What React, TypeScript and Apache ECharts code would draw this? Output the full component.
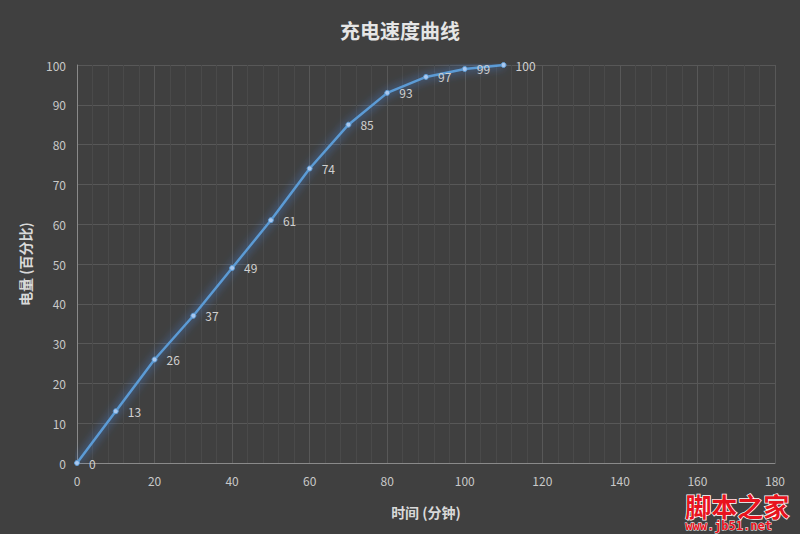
import React, { useEffect, useRef } from "react";
import * as echarts from "echarts";

const minutes = [0, 10, 20, 30, 40, 50, 60, 70, 80, 90, 100, 110];
const battery = [0, 13, 26, 37, 49, 61, 74, 85, 93, 97, 99, 100];
const title = "充电速度曲线";
const xName = "时间 (分钟)";
const yName = "电量 (百分比)";

export default function App() {
  const ref = useRef<HTMLDivElement>(null);
  useEffect(() => {
    if (!ref.current) return;
    const chart = echarts.init(ref.current, null, { renderer: "svg" });
    const font = "'Noto Sans CJK SC', 'Open Sans', sans-serif";
    chart.setOption({
      animation: false,
      backgroundColor: "#404040",
      textStyle: { fontFamily: font },
      title: {
        text: title,
        left: "center",
        top: 15,
        textStyle: { color: "#e6e6e6", fontSize: 20, fontWeight: "bold", fontFamily: font },
      },
      grid: { left: 77, right: 25, top: 65, bottom: 71, containLabel: false },
      xAxis: {
        type: "value",
        min: 0,
        max: 180,
        interval: 20,
        name: xName,
        nameLocation: "middle",
        nameGap: 42,
        nameTextStyle: { color: "#d9d9d9", fontSize: 14, fontWeight: "bold", fontFamily: font },
        axisLine: { show: true, lineStyle: { color: "#8a8a8a", width: 1 } },
        axisTick: { show: false },
        axisLabel: { color: "#c8c8c8", fontSize: 12, margin: 10, lineHeight: 14 },
        splitLine: { show: true, lineStyle: { color: "#585858", width: 1 } },
        minorTick: { show: false, splitNumber: 5 },
        minorSplitLine: { show: true, lineStyle: { color: "#4a4a4a", width: 1 } },
      },
      yAxis: {
        type: "value",
        min: 0,
        max: 100,
        interval: 10,
        name: yName,
        nameLocation: "middle",
        nameGap: 45,
        nameRotate: 90,
        nameTextStyle: { color: "#d9d9d9", fontSize: 14, fontWeight: "bold", fontFamily: font },
        axisLine: { show: true, lineStyle: { color: "#8a8a8a", width: 1 } },
        axisTick: { show: false },
        axisLabel: { color: "#c8c8c8", fontSize: 12, margin: 11 },
        splitLine: { show: true, lineStyle: { color: "#585858", width: 1 } },
      },
      series: [
        {
          type: "line",
          data: minutes.map((m, i) => [m, battery[i]]),
          symbol: "circle",
          symbolSize: 5,
          itemStyle: { color: "#a9c8ef", borderColor: "#5b9bd5", borderWidth: 1 },
          lineStyle: {
            color: "#5b9bd5",
            width: 2.5,
            shadowColor: "rgba(70,140,240,1)",
            shadowBlur: 10,
          },
          label: {
            show: true,
            position: "right",
            distance: 9,
            color: "#d0d0d0",
            fontSize: 12,
          },
        },
      ],
      graphic: [
        {
          type: "text",
          right: 10,
          top: 492,
          style: {
            text: "{a|脚本之家}\n{b|www.jb51.net}",
            align: "right",
            rich: {
              a: {
                fill: "#e8141e",
                stroke: "#ffffff",
                lineWidth: 1.5,
                lineHeight: 27,
                fontSize: 26,
                fontWeight: "bold",
                fontFamily: "'Noto Sans CJK SC', sans-serif",
              },
              b: {
                fill: "#e8141e",
                stroke: "#ffffff",
                lineWidth: 0.8,
                lineHeight: 13,
                fontSize: 12,
                fontWeight: "bold",
                fontFamily: "'DejaVu Sans Mono', monospace",
              },
            },
          },
        },
      ],
    });
    return () => chart.dispose();
  }, []);
  return <div ref={ref} style={{ width: 800, height: 534, position: "fixed", left: 0, top: 0 }} />;
}
